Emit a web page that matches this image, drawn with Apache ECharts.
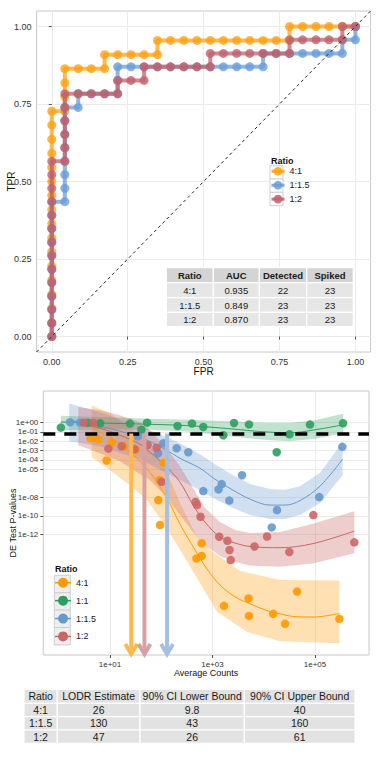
<!DOCTYPE html>
<html><head><meta charset="utf-8">
<script src="https://cdn.jsdelivr.net/npm/echarts@6/dist/echarts.min.js"></script>
<style>html,body{margin:0;padding:0;background:#fff}#c{width:380px;height:760px}</style>
</head><body><div id="c"></div>
<script>
// ================= ROC panel data =================
const rocRatios = ['4:1', '1:1.5', '1:2'];
const rocTicks = [0, 0.25, 0.5, 0.75, 1];
const rocMin = -0.05, rocMax = 1.05;

const roc41Fpr = [0,0,0,0,0,0,0,0,0,0,0,0,0,0,0,0,0,0.043,0.043,0.043,0.043,0.087,0.130,0.174,0.174,0.217,0.261,0.304,0.348,0.348,0.391,0.435,0.478,0.522,0.565,0.609,0.652,0.696,0.739,0.783,0.783,0.826,0.870,0.913,0.957,1];
const roc41Tpr = [0,0.045,0.091,0.136,0.182,0.227,0.273,0.318,0.364,0.409,0.455,0.5,0.545,0.591,0.636,0.682,0.727,0.727,0.773,0.818,0.864,0.864,0.864,0.864,0.909,0.909,0.909,0.909,0.909,0.955,0.955,0.955,0.955,0.955,0.955,0.955,0.955,0.955,0.955,0.955,1,1,1,1,1,1];

const roc15Fpr = [0,0,0,0,0,0,0,0,0,0,0,0.043,0.043,0.043,0.043,0.043,0.043,0.043,0.043,0.087,0.087,0.130,0.174,0.217,0.217,0.217,0.261,0.304,0.348,0.391,0.435,0.478,0.522,0.565,0.609,0.652,0.696,0.696,0.739,0.783,0.826,0.870,0.913,0.957,0.957,1,1];
const roc15Tpr = [0,0.043,0.087,0.130,0.174,0.217,0.261,0.304,0.348,0.391,0.435,0.435,0.478,0.522,0.565,0.609,0.652,0.696,0.739,0.739,0.783,0.783,0.783,0.783,0.826,0.870,0.870,0.870,0.870,0.870,0.870,0.870,0.870,0.870,0.870,0.870,0.870,0.913,0.913,0.913,0.913,0.913,0.913,0.913,0.957,0.957,1];

const roc12Fpr = [0,0,0,0,0,0,0,0,0,0,0,0,0,0,0.043,0.043,0.043,0.043,0.043,0.043,0.087,0.130,0.174,0.217,0.217,0.261,0.304,0.304,0.348,0.391,0.435,0.478,0.522,0.522,0.565,0.609,0.652,0.696,0.739,0.783,0.783,0.826,0.870,0.913,0.957,0.957,1];
const roc12Tpr = [0,0.043,0.087,0.130,0.174,0.217,0.261,0.304,0.348,0.391,0.435,0.478,0.522,0.565,0.565,0.609,0.652,0.696,0.739,0.783,0.783,0.783,0.783,0.783,0.826,0.826,0.826,0.870,0.870,0.870,0.870,0.870,0.870,0.913,0.913,0.913,0.913,0.913,0.913,0.913,0.957,0.957,0.957,0.957,0.957,1,1];

const rocTableHeader = ['Ratio', 'AUC', 'Detected', 'Spiked'];
const rocTableRatio = ['4:1', '1:1.5', '1:2'];
const rocTableAuc = ['0.935', '0.849', '0.870'];
const rocTableDetected = [22, 23, 23];
const rocTableSpiked = [23, 23, 23];

// ================= LODR panel data =================
const lodrRatios = ['4:1', '1:1', '1:1.5', '1:2'];
const xTickValues = [10, 1000, 100000];
const yTickValues = [1, 0.1, 0.01, 0.001, 1e-4, 1e-5, 1e-8, 1e-10, 1e-12];
const countMin = 0.5, countMax = 1.13e6;
const pMin = 1.3e-25, pMax = 2400;
const pThreshold = 0.067;

const pts41Count = [4.2, 5.9, 8.6, 10.8, 18.8, 32, 111, 92.5, 87.6, 94.6, 615, 615, 487, 1675, 5040, 5150, 15300, 26000, 44600, 298000];
const pts41P = [0.021, 0.016, 8.7e-5, 7.3e-3, 2.9e-3, 1.24e-3, 5.1e-5, 6.9e-7, 5e-9, 1.07e-11, 1.2e-13, 5.2e-15, 2.8e-15, 2.4e-20, 1.5e-19, 2e-21, 3.3e-21, 2.8e-22, 8e-19, 9.7e-22];
const pts11Count = [1.1, 3.7, 6.4, 24.5, 41, 53, 208, 398, 661, 1625, 2630, 5150, 17900, 31800, 79800, 352000];
const pts11P = [0.29, 0.95, 0.84, 0.78, 0.17, 0.98, 0.43, 0.78, 0.34, 0.044, 0.91, 0.63, 6.7e-4, 0.056, 0.61, 0.84];
const pts15Count = [1.66, 2.6, 35, 86.5, 110, 200, 337, 661, 1310, 1510, 2130, 3770, 14300, 18100, 121000, 341000];
const pts15P = [1.1, 0.97, 0.034, 5.2e-4, 6.1e-3, 1.8e-3, 6.7e-4, 4.6e-8, 7e-8, 2.6e-7, 4.4e-9, 2.3e-6, 6e-12, 4.3e-10, 1.05e-8, 2.5e-3];
const pts12Count = [3.1, 4.7, 9.3, 16.9, 30, 54, 81, 102, 466, 499, 584, 1350, 1950, 2150, 2270, 6600, 11600, 31500, 92700, 585000];
const pts12P = [0.98, 0.95, 1.6e-3, 2.9e-3, 1.4e-3, 3.8e-3, 2e-3, 4.5e-7, 3.1e-9, 1.46e-9, 8.2e-11, 6e-13, 2.2e-13, 2.3e-14, 1.9e-15, 5.4e-14, 6.3e-13, 1.4e-14, 1.25e-10, 1.5e-13];

const fit41Count = [4.4, 10, 24.5, 60, 135, 232, 456, 782, 1400, 2750, 5390, 10600, 20700, 44600, 91400, 298000];
const fit41P = [0.25, 0.027, 6.7e-4, 4.9e-6, 5e-9, 1.36e-11, 2.3e-14, 2.1e-16, 4.1e-18, 2.2e-19, 3.9e-20, 8.8e-21, 3.3e-21, 1.6e-21, 1.5e-21, 3.7e-21];
const band41UpCount = [4.4, 10, 24.5, 60, 118, 232, 476, 1020, 3440, 20700, 298000];
const band41Up = [70, 9.9, 0.25, 3.8e-3, 1.3e-5, 2.4e-9, 9.1e-13, 1.4e-14, 1.3e-16, 1.4e-17, 1.25e-17];
const band41LoCount = [4.4, 10, 24.5, 52.7, 118, 254, 499, 1225, 4710, 20700, 298000];
const band41Lo = [2e-4, 8e-6, 2e-7, 5e-9, 1.07e-11, 1.1e-14, 2.3e-17, 5.4e-21, 3.9e-23, 3.8e-24, 2.3e-24];

const fit11Count = [1.1, 10, 60, 364, 2190, 9660, 32500, 100000, 352000];
const fit11P = [1.16, 0.84, 0.66, 0.455, 0.218, 0.104, 0.081, 0.170, 0.58];
const band11Up = [5.3, 3.7, 2.55, 1.99, 1.38, 0.95, 0.95, 1.76, 8.7];
const band11Lo = [0.15, 0.19, 0.17, 0.104, 0.034, 0.0145, 0.010, 0.0186, 0.072];

const fit15Count = [1.6, 6.4, 38.5, 118, 232, 570, 1120, 2510, 5390, 13200, 26000, 50900, 125000, 345000];
const fit15P = [1.76, 0.40, 0.027, 1.4e-3, 1.5e-4, 1.3e-5, 8.7e-7, 5.8e-8, 6.4e-9, 1.46e-9, 1.46e-9, 4.4e-9, 1.56e-7, 1.2e-4];
const band15Up = [107, 12.6, 0.40, 0.034, 6.1e-3, 4.1e-4, 3.5e-5, 2.3e-6, 2.6e-7, 7.5e-8, 6.6e-8, 1.56e-7, 4.3e-6, 7.9e-3];
const band15Lo = [0.01, 2.9e-3, 1.2e-4, 4.9e-6, 6.9e-7, 5.8e-8, 6.4e-9, 7e-10, 1.25e-10, 4.7e-11, 4.7e-11, 1.25e-10, 2.4e-9, 2.3e-6];

const fit12Count = [2.4, 6.4, 15.7, 38.5, 60, 118, 232, 417, 714, 1400, 2750, 5390, 20700, 91400, 585000];
const fit12P = [0.78, 0.25, 0.044, 4.8e-3, 6.7e-4, 2.7e-5, 4.2e-7, 1.46e-9, 2.2e-11, 5.6e-13, 1.27e-13, 5.4e-14, 4e-14, 1.1e-13, 2.4e-12];
const band12Up = [46, 20.6, 6.0, 1.08, 0.15, 2.9e-3, 2.1e-5, 9.6e-8, 7e-10, 2.2e-11, 3.1e-12, 1.5e-12, 1.9e-12, 1.5e-11, 3.3e-10];
const band12Lo = [3.8e-3, 5.2e-4, 7.3e-5, 3e-6, 6.9e-7, 1.7e-8, 1.25e-10, 1.9e-12, 7.8e-14, 5.2e-15, 1.2e-15, 5e-16, 3.7e-16, 8.2e-16, 1e-14];

const lodrTableHeader = ['Ratio', 'LODR Estimate', '90% CI Lower Bound', '90% CI Upper Bound'];
const lodrTableRatio = ['4:1', '1:1.5', '1:2'];
const lodrEstimate = [26, 130, 47];
const lodrLower = [9.8, 43, 26];
const lodrUpper = [40, 160, 61];

// ================= styling =================
const FONT = "'Liberation Sans', Arial, Helvetica, sans-serif";
const C_ROC = {'4:1': '#FFA115', '1:1.5': '#6A9ED8', '1:2': '#C0606C'};
const C_LODR = {'4:1': '#FF9900', '1:1': '#2E9E5E', '1:1.5': '#6699CC', '1:2': '#CC6666'};
const C_ARROW = {'4:1': '#FFB84D', '1:1.5': '#A5C0DE', '1:2': '#D9A0A3'};

const expFmt = v => {
  const e = Math.round(Math.log10(v));
  return '1e' + (e < 0 ? '-' : '+') + String(Math.abs(e)).padStart(2, '0');
};

const series = [];
const rocSets = [[roc41Fpr, roc41Tpr], [roc15Fpr, roc15Tpr], [roc12Fpr, roc12Tpr]];
rocRatios.forEach((r, k) => {
  const fx = rocSets[k][0], ty = rocSets[k][1];
  series.push({
    name: r, type: 'line', xAxisIndex: 0, yAxisIndex: 0, z: 2 + k, silent: true,
    data: fx.map((v, i) => [v, ty[i]]),
    symbol: 'circle', symbolSize: 9, showSymbol: true,
    lineStyle: {color: C_ROC[r], width: 4, opacity: 0.75},
    itemStyle: {color: C_ROC[r], opacity: 0.8}
  });
});
series.push({
  type: 'line', xAxisIndex: 0, yAxisIndex: 0, z: 10, silent: true, symbol: 'none',
  data: [[rocMin, rocMin], [rocMax, rocMax]],
  lineStyle: {color: '#222', width: 1, type: [3, 3]}
});

const groups = [
  {r: '4:1', px: pts41Count, py: pts41P, fx: fit41Count, fy: fit41P, ux: band41UpCount, uy: band41Up, lx: band41LoCount, ly: band41Lo, op: 0.3},
  {r: '1:1', px: pts11Count, py: pts11P, fx: fit11Count, fy: fit11P, ux: fit11Count, uy: band11Up, lx: fit11Count, ly: band11Lo, op: 0.3},
  {r: '1:1.5', px: pts15Count, py: pts15P, fx: fit15Count, fy: fit15P, ux: fit15Count, uy: band15Up, lx: fit15Count, ly: band15Lo, op: 0.3},
  {r: '1:2', px: pts12Count, py: pts12P, fx: fit12Count, fy: fit12P, ux: fit12Count, uy: band12Up, lx: fit12Count, ly: band12Lo, op: 0.33}
];
groups.forEach(g => {
  series.push({
    type: 'custom', xAxisIndex: 1, yAxisIndex: 1, z: 1, silent: true,
    encode: {x: 0, y: 1},
    data: g.ux.map((x, i) => [x, g.uy[i]]),
    renderItem: (params, api) => {
      if (params.dataIndex !== 0) return null;
      const pts = g.ux.map((x, i) => api.coord([x, g.uy[i]]));
      for (let i = g.lx.length - 1; i >= 0; i--) pts.push(api.coord([g.lx[i], g.ly[i]]));
      return {type: 'polygon', shape: {points: pts}, style: {fill: C_LODR[g.r], opacity: g.op}};
    }
  });
  series.push({
    name: g.r, type: 'line', xAxisIndex: 1, yAxisIndex: 1, z: 2, silent: true,
    data: g.fx.map((x, i) => [x, g.fy[i]]), smooth: 0.35, symbol: 'circle', showSymbol: false,
    lineStyle: {color: C_LODR[g.r], width: 1}, itemStyle: {color: C_LODR[g.r]}
  });
});
series.push({
  type: 'line', xAxisIndex: 1, yAxisIndex: 1, z: 3, silent: true, data: [],
  markLine: {
    silent: true, symbol: ['none', 'none'], label: {show: false},
    lineStyle: {color: '#000', width: 3.5, type: [12, 9]},
    data: [{yAxis: pThreshold}]
  }
});
groups.forEach(g => {
  series.push({
    type: 'scatter', xAxisIndex: 1, yAxisIndex: 1, z: 4, silent: true,
    data: g.px.map((x, i) => [x, g.py[i]]), symbolSize: 8.5,
    itemStyle: {color: C_LODR[g.r], opacity: 0.9}
  });
});
series.push({
  type: 'custom', xAxisIndex: 1, yAxisIndex: 1, z: 5, silent: true,
  encode: {x: 0, y: 1},
  data: lodrEstimate.map(v => [v, pThreshold]),
  renderItem: (params, api) => {
    const top = api.coord([api.value(0), pThreshold]);
    const tipY = params.coordSys.y + params.coordSys.height - 1;
    const col = C_ARROW[lodrTableRatio[params.dataIndex]];
    const x = top[0];
    return {type: 'group', children: [
      {type: 'line', shape: {x1: x, y1: top[1], x2: x, y2: tipY}, style: {stroke: col, lineWidth: 4}},
      {type: 'polyline', shape: {points: [[x - 6, tipY - 10], [x, tipY], [x + 6, tipY - 10]]}, style: {stroke: col, lineWidth: 4, fill: null}}
    ]};
  }
});

// ================= graphics: legend boxes, titles, tables =================
const graphics = [];
graphics.push({type: 'text', x: 271, y: 161, z: 5, style: {text: 'Ratio', fontSize: 9, fontWeight: 'bold', fill: '#111', fontFamily: FONT, verticalAlign: 'middle'}});
[172.3, 185.6, 199].forEach(c => graphics.push({type: 'rect', z: 1, shape: {x: 270, y: c - 6.65, width: 13, height: 13.3}, style: {fill: '#fff', stroke: '#CFCFCF', lineWidth: 1}}));
graphics.push({type: 'text', x: 55, y: 569, z: 5, style: {text: 'Ratio', fontSize: 9, fontWeight: 'bold', fill: '#111', fontFamily: FONT, verticalAlign: 'middle'}});
[584, 601.4, 618.8, 636.2].forEach(c => graphics.push({type: 'rect', z: 1, shape: {x: 54.3, y: c - 8.7, width: 16, height: 17.4}, style: {fill: '#EEEEEE', stroke: '#CFCFCF', lineWidth: 1}}));

function table(xs, ys, rows, headFill, bodyFill, headBold, fs) {
  rows.forEach((row, r) => row.forEach((cell, c) => {
    graphics.push({type: 'rect', z: 6, shape: {x: xs[c], y: ys[r], width: xs[c + 1] - xs[c], height: ys[r + 1] - ys[r]},
      style: {fill: r === 0 ? headFill : bodyFill, stroke: '#fff', lineWidth: 1.2}});
    graphics.push({type: 'text', z: 7, x: (xs[c] + xs[c + 1]) / 2, y: (ys[r] + ys[r + 1]) / 2,
      style: {text: String(cell), align: 'center', verticalAlign: 'middle', fontSize: fs, fontWeight: (r === 0 && headBold) ? 'bold' : 'normal', fill: '#1a1a1a', fontFamily: FONT}});
  }));
}
const rocRows = [rocTableHeader].concat(rocTableRatio.map((r, i) => [r, rocTableAuc[i], rocTableDetected[i], rocTableSpiked[i]]));
table([166.3, 213.3, 259.3, 306.7, 353.3], [267.7, 282.7, 297.7, 312.3, 326.7], rocRows, '#D4D4D4', '#E6E6E6', true, 9.5);
const lodrRows = [lodrTableHeader].concat(lodrTableRatio.map((r, i) => [r, lodrEstimate[i], lodrLower[i], lodrUpper[i]]));
table([24, 57.3, 140, 244.3, 355], [689.3, 703.3, 716.7, 730, 743.3], lodrRows, '#E2E2E2', '#E2E2E2', false, 10.5);

const legendItem = (r, col, lw, op) => ({name: r, itemStyle: {color: col, opacity: op, borderWidth: 0}, lineStyle: {color: col, width: lw, opacity: op}});

const chart = echarts.init(document.getElementById('c'), null, {renderer: 'svg'});
chart.setOption({
  animation: false,
  backgroundColor: '#fff',
  textStyle: {fontFamily: FONT},
  grid: [
    {left: 36.6, top: 11, width: 334, height: 341, show: true, backgroundColor: '#fff', borderColor: '#C8C8C8', borderWidth: 1, outerBoundsMode: 'none'},
    {left: 43.3, top: 391, width: 325.7, height: 264, show: true, backgroundColor: '#fff', borderColor: '#C8C8C8', borderWidth: 1, outerBoundsMode: 'none'}
  ],
  xAxis: [
    {gridIndex: 0, type: 'value', min: rocMin, max: rocMax, name: 'FPR', nameLocation: 'middle', nameGap: 14.5, nameMoveOverlap: false,
      nameTextStyle: {fontSize: 10, color: '#111'},
      axisLine: {show: false},
      axisTick: {show: true, length: 3, customValues: rocTicks, lineStyle: {color: '#555'}},
      axisLabel: {customValues: rocTicks, fontSize: 9, color: '#333', margin: 5, formatter: v => v.toFixed(2)},
      splitLine: {show: true, lineStyle: {color: '#EBEBEB', width: 1}}},
    {gridIndex: 1, type: 'log', logBase: 10, min: countMin, max: countMax, name: 'Average Counts', nameLocation: 'middle', nameGap: 13, nameMoveOverlap: false,
      nameTextStyle: {fontSize: 9, color: '#111'},
      axisLine: {show: false},
      axisTick: {show: true, length: 3, customValues: xTickValues, lineStyle: {color: '#555'}},
      axisLabel: {customValues: xTickValues, fontSize: 8, color: '#333', margin: 5, formatter: expFmt},
      splitLine: {show: true, lineStyle: {color: '#EBEBEB', width: 1}}}
  ],
  yAxis: [
    {gridIndex: 0, type: 'value', min: rocMin, max: rocMax, name: 'TPR', nameLocation: 'middle', nameGap: 20, nameMoveOverlap: false,
      nameTextStyle: {fontSize: 10, color: '#111'},
      axisLine: {show: false},
      axisTick: {show: true, length: 3, customValues: rocTicks, lineStyle: {color: '#555'}},
      axisLabel: {customValues: rocTicks, fontSize: 9, color: '#333', margin: 5, formatter: v => v.toFixed(2)},
      splitLine: {show: true, lineStyle: {color: '#EBEBEB', width: 1}}},
    {gridIndex: 1, type: 'log', logBase: 10, min: pMin, max: pMax, name: 'DE Test P-values', nameLocation: 'middle', nameGap: 26, nameMoveOverlap: false,
      nameTextStyle: {fontSize: 9, color: '#111'},
      axisLine: {show: false},
      axisTick: {show: true, length: 3, customValues: yTickValues, lineStyle: {color: '#555'}},
      axisLabel: {customValues: yTickValues, fontSize: 8, color: '#333', margin: 5, formatter: expFmt},
      splitLine: {show: true, lineStyle: {color: '#EBEBEB', width: 1}}}
  ],
  legend: [
    {orient: 'vertical', left: 270, top: 166.8, padding: 0, itemWidth: 13, itemHeight: 11, itemGap: 4.9, selectedMode: false,
      textStyle: {fontSize: 9, color: '#1a1a1a', fontFamily: FONT},
      data: rocRatios.map(r => legendItem(r, C_ROC[r], 3, 0.85))},
    {orient: 'vertical', left: 54.3, top: 577.75, padding: 0, itemWidth: 16, itemHeight: 12.5, itemGap: 7.9, selectedMode: false,
      textStyle: {fontSize: 9, color: '#1a1a1a', fontFamily: FONT},
      data: lodrRatios.map(r => legendItem(r, C_LODR[r], 1.5, 1))}
  ],
  graphic: {elements: graphics},
  series: series
});
</script></body></html>
